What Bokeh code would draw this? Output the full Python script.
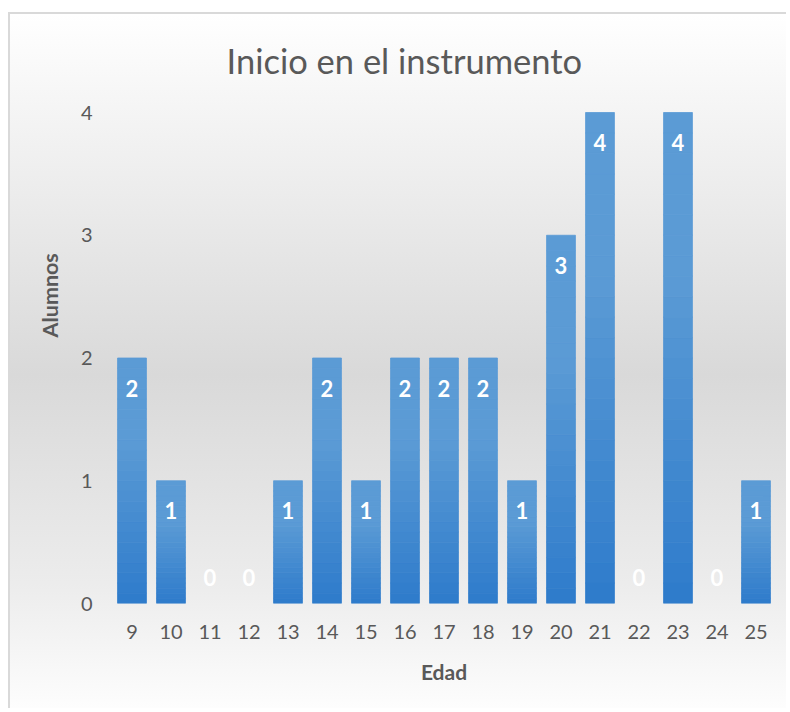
from bokeh.plotting import figure
from bokeh.models import FactorRange, Range1d, FixedTicker, Title, ColumnDataSource
from bokeh.core.properties import value
from bokeh.embed import file_html
from bokeh.resources import INLINE

# ---- data ----
edades = ["9", "10", "11", "12", "13", "14", "15", "16", "17",
          "18", "19", "20", "21", "22", "23", "24", "25"]
alumnos = [2, 1, 0, 0, 1, 2, 1, 2, 2, 2, 1, 3, 4, 0, 4, 0, 1]
y_ticks = [0, 1, 2, 3, 4]
titulo = "Inicio en el instrumento"
x_titulo = "Edad"
y_titulo = "Alumnos"

FONT = "Lato"
TXT = "#595959"

p = figure(
    x_range=FactorRange(*edades, range_padding=0),
    y_range=Range1d(0, 4.0815),
    width=778, height=696,
    output_backend="svg", toolbar_location=None,
    min_border_left=102, min_border_right=13,
    min_border_top=88, min_border_bottom=107,
)
p.styles = {
    "margin-top": "12px",
    "margin-left": "8px",
    "background": "linear-gradient(to bottom, #ffffff 0%, #f6f6f6 12%, #d9d9d9 52%, #ececec 82%, #fdfdfd 100%)",
    "border-left": "2px solid #d9d9d9",
    "border-top": "2px solid #d9d9d9",
}
p.background_fill_color = None
p.border_fill_color = None
p.outline_line_color = None
p.xgrid.grid_line_color = None
p.ygrid.grid_line_color = None

# ---- gradient bars (stacked thin slices per bar) ----
dark = (0x2e, 0x7b, 0xcb)
light = (0x5b, 0x9b, 0xd5)
N = 24
xs, bots, tops, cols = [], [], [], []
for cat, v in zip(edades, alumnos):
    if v <= 0:
        continue
    for k in range(N):
        f = (k + 0.5) / N
        t = min(1.0, f * 1.5)
        c = tuple(int(round(d + (l - d) * t)) for d, l in zip(dark, light))
        xs.append(cat)
        bots.append(v * k / N)
        tops.append(v * (k + 1) / N)
        cols.append("#%02x%02x%02x" % c)
src = ColumnDataSource(dict(x=xs, bottom=bots, top=tops, color=cols))
p.vbar(x="x", bottom="bottom", top="top", width=0.74, source=src,
       fill_color="color", line_color="color", line_width=0.8)

# ---- value labels ----
offs = [30 if v > 0 else -26 for v in alumnos]
p.text(x=edades, y=alumnos, text=[str(v) for v in alumnos], y_offset=offs,
       text_color="white", text_font=value(FONT), text_font_style="bold",
       text_font_size="22px", text_align="center", text_baseline="middle")

# ---- axes ----
for ax in (p.xaxis[0], p.yaxis[0]):
    ax.axis_line_color = None
    ax.major_tick_line_color = None
    ax.minor_tick_line_color = None
    ax.major_label_text_font = FONT
    ax.major_label_text_font_size = "20px"
    ax.major_label_text_color = TXT

p.yaxis.ticker = FixedTicker(ticks=y_ticks)
p.yaxis.major_label_standoff = 14
p.xaxis.major_label_standoff = 15
p.xaxis.axis_label = x_titulo
p.xaxis.axis_label_text_font = FONT
p.xaxis.axis_label_text_font_size = "21px"
p.xaxis.axis_label_text_font_style = "bold"
p.xaxis.axis_label_text_color = TXT
p.xaxis.axis_label_standoff = 17

# y-axis title as a left-side title (lets it sit above the frame's centre)
yt = Title(text=y_titulo, text_font=FONT, text_font_size="21.5px",
           text_font_style="bold", text_color=TXT, align="left",
           offset=266, standoff=29)
p.add_layout(yt, "left")

# ---- title ----
p.title.text = titulo
p.title.text_font = FONT
p.title.text_font_size = "34.5px"
p.title.text_font_style = "normal"
p.title.text_color = TXT
p.title.align = "left"
p.title.offset = 114
p.title.standoff = 44

open("out.html", "w").write(file_html(p, INLINE))
